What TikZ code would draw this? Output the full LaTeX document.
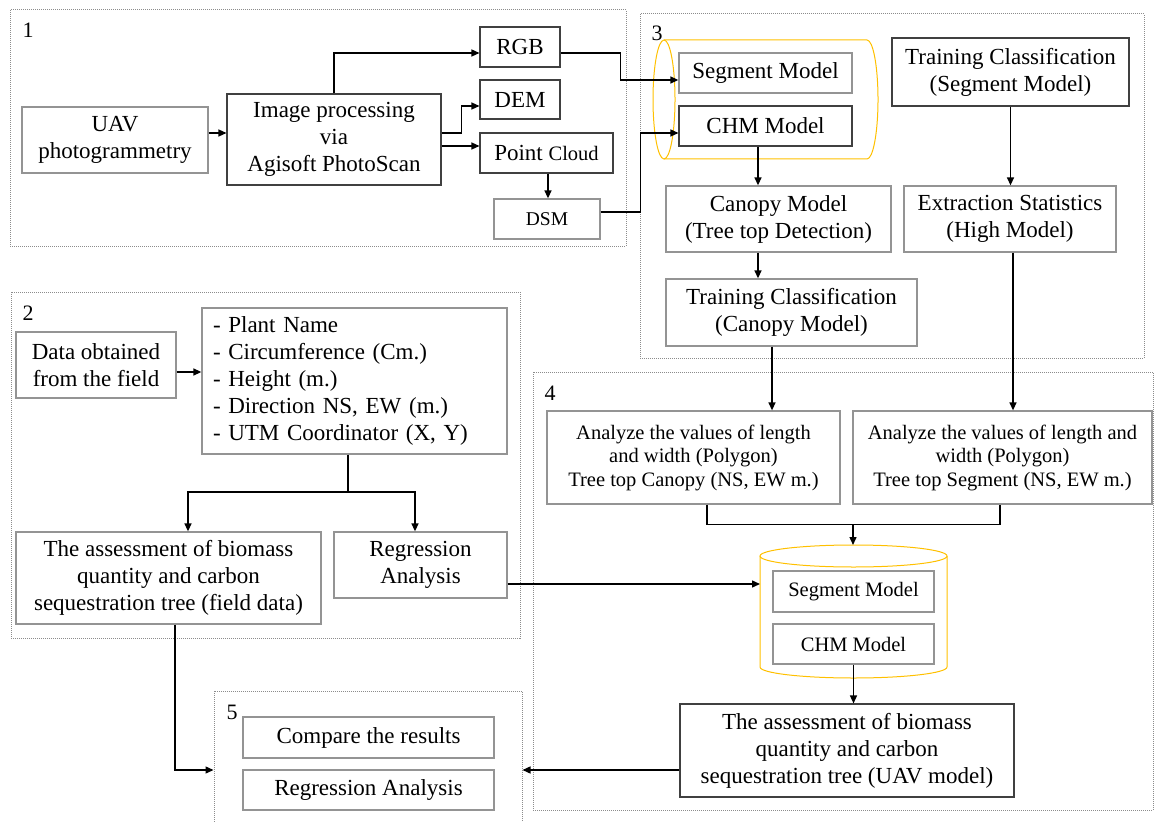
\documentclass[tikz,border=0pt]{standalone}
\usepackage{fontspec}
\setmainfont{Liberation Serif}
\usetikzlibrary{arrows.meta}
\definecolor{tankyellow}{RGB}{255,192,0}
\tikzset{
  box/.style={draw=black!42, line width=1.3pt, fill=white, inner sep=0pt, align=center, font=\fontsize{23}{27}\selectfont},
  darkbox/.style={box, draw=black!75, line width=1.1pt},
  smallbox/.style={box, font=\fontsize{20.5}{23.5}\selectfont},
  frame/.style={draw=black!45, line width=1pt, dash pattern=on 1pt off 1pt, inner sep=0pt},
  tag/.style={font=\fontsize{22}{26}\selectfont, inner sep=0pt},
  link/.style={line width=1.4pt, -{Triangle[length=8pt,width=7pt]}},
  wire/.style={line width=1.4pt},
  tank/.style={draw=tankyellow, line width=1pt}
}

\begin{document}
\begin{tikzpicture}[x=1pt,y=-1pt]
\useasboundingbox (0,0) rectangle (1155,821);

% frames
\node[frame, minimum width=616, minimum height=236] (f1) at (318,128) {};
\node[frame, minimum width=504, minimum height=344] (f3) at (892,186) {};
\node[frame, minimum width=509, minimum height=346] (f2) at (265.5,465) {};
\node[frame, minimum width=620, minimum height=438] (f4) at (843,591) {};
\node[frame, minimum width=308, minimum height=138] (f5) at (368,760) {};
\node[tag] (n1) at (28,30) {1};
\node[tag] (n2) at (28,313) {2};
\node[tag] (n3) at (657,33) {3};
\node[tag] (n4) at (550,393) {4};
\node[tag] (n5) at (232,712) {5};

% tanks
\draw[tank] (664,40) -- (867,40) arc[start angle=90, end angle=-90, x radius=11pt, y radius=59.5pt] -- (664,159);
\draw[tank] (664,99.5) ellipse [x radius=11pt, y radius=59.5pt];
\draw[tank] (853.5,556) ellipse [x radius=93.5pt, y radius=11pt];
\draw[tank] (760,556) -- (760,667) arc[start angle=180, end angle=360, x radius=93.5pt, y radius=11pt] -- (947,556);
\coordinate (tank4n) at (853,545);
\coordinate (tank4w) at (760,584);

% section 1
\node[box, minimum width=186, minimum height=66] (uav) at (115,140) {UAV\\photogrammetry};
\node[darkbox, minimum width=214, minimum height=91] (proc) at (334,139.5) {Image processing\\via\\Agisoft PhotoScan};
\node[darkbox, minimum width=80, minimum height=40] (rgb) at (520,47) {RGB};
\node[darkbox, minimum width=80, minimum height=39] (dem) at (520,99.5) {DEM};
\node[darkbox, minimum width=133, minimum height=40] (cloud) at (546.5,153) {Point {\fontsize{20.5}{23.5}\selectfont Cloud}};
\node[box, minimum width=106, minimum height=40, font=\fontsize{19.5}{23}\selectfont] (dsm) at (547,219) {DSM};

% section 3
\node[box, minimum width=173, minimum height=40] (seg3) at (765.5,73) {Segment Model};
\node[darkbox, minimum width=173, minimum height=40] (chm3) at (765.5,126) {CHM Model};
\node[box, minimum width=225, minimum height=66] (canopy) at (778.5,219) {Canopy Model\\(Tree top Detection)};
\node[box, minimum width=251, minimum height=67] (trainc) at (791.5,312.5) {Training Classification\\(Canopy Model)};
\node[darkbox, minimum width=237, minimum height=68] (trains) at (1010.5,72) {Training Classification\\(Segment Model)};
\node[box, minimum width=212, minimum height=66] (extract) at (1010,219) {Extraction Statistics\\(High Model)};

% section 2
\node[box, minimum width=160, minimum height=66] (data) at (96,365) {Data obtained\\from the field};
\node[box, text width=283pt, inner xsep=11pt, align=left, minimum height=146] (list) at (354.5,381)
  {- Plant Name\\- Circumference (Cm.)\\- Height (m.)\\- Direction NS, EW (m.)\\- UTM Coordinator (X, Y)};
\node[box, minimum width=305, minimum height=92] (field) at (168.5,578) {The assessment of biomass\\quantity and carbon\\sequestration tree (field data)};
\node[box, minimum width=173, minimum height=66] (reg) at (420.5,565) {Regression\\Analysis};
\coordinate (split) at (348,492);

% section 4
\node[smallbox, minimum width=293, minimum height=93] (ana1) at (693.5,457.5) {Analyze the values of length\\and width (Polygon)\\Tree top Canopy (NS, EW m.)};
\node[smallbox, minimum width=299, minimum height=93] (ana2) at (1002.5,457.5) {Analyze the values of length and\\width (Polygon)\\Tree top Segment (NS, EW m.)};
\node[smallbox, minimum width=161, minimum height=41] (seg4) at (853.5,591.5) {Segment Model};
\node[smallbox, minimum width=161, minimum height=40] (chm4) at (853.5,644) {CHM Model};
\node[darkbox, minimum width=334, minimum height=93] (assess) at (847,750.5) {The assessment of biomass\\quantity and carbon\\sequestration tree (UAV model)};

% section 5
\node[box, minimum width=251, minimum height=41] (cmp) at (368.5,737.5) {Compare the results};
\node[box, minimum width=251, minimum height=40] (reg5) at (368.5,790) {Regression Analysis};

% connectors
\draw[link] ([yshift=7pt]uav.east) -- ([yshift=7pt]uav.east -| proc.west);
\draw[link] (proc.north) |- ([yshift=-6pt]rgb.west);
\draw[link] ([yshift=6.5pt]proc.east) -- ++(20,0) |- ([yshift=-6.5pt]dem.west);
\draw[link] ([yshift=-6.5pt]proc.east) -- ([yshift=-6.5pt]proc.east -| cloud.west);
\draw[link] ([xshift=1.5pt]cloud.south) -- ([xshift=1.5pt]cloud.south |- dsm.north);
\draw[link] ([yshift=-6pt]rgb.east) -- ++(60,0) |- ([yshift=-7pt]seg3.west);
\draw[link] ([yshift=7pt]dsm.east) -- ++(40,0) |- ([yshift=-7pt]chm3.west);
\draw[link] ([xshift=-7.5pt]chm3.south) -- ([xshift=-7.5pt]chm3.south |- canopy.north);
\draw[link] ([xshift=-20.5pt]canopy.south) -- ([xshift=-20.5pt]canopy.south |- trainc.north);
\draw[link] (trains.south) -- (trains.south |- extract.north);
\draw[link] ([xshift=-19.5pt]trainc.south) -- ([xshift=-19.5pt]trainc.south |- ana1.north);
\draw[link] ([xshift=3pt]extract.south) -- ([xshift=3pt]extract.south |- ana2.north);
\draw[wire] ([xshift=13.5pt]ana1.south) -- ++(0,20) -| ([xshift=-2.5pt]ana2.south);
\draw[link] (tank4n |- 0,524) -- (tank4n);
\draw[link] (chm4.south) -- (chm4.south |- assess.north);
\draw[link] ([yshift=-7pt]data.east) -- ([yshift=-7pt]data.east -| list.west);
\draw[wire] ([xshift=-6.5pt]list.south) -- (split);
\draw[link] (split) -| ([xshift=19.5pt]field.north);
\draw[link] (split) -| ([xshift=-5.5pt]reg.north);
\draw[link] ([yshift=-19pt]reg.east) -- (tank4w);
\draw[link] ([xshift=6.5pt]field.south) |- ([yshift=-10pt]f5.west);
\draw[link] ([yshift=-19.5pt]assess.west) -- ([yshift=-10pt]f5.east);

\end{tikzpicture}
\end{document}
